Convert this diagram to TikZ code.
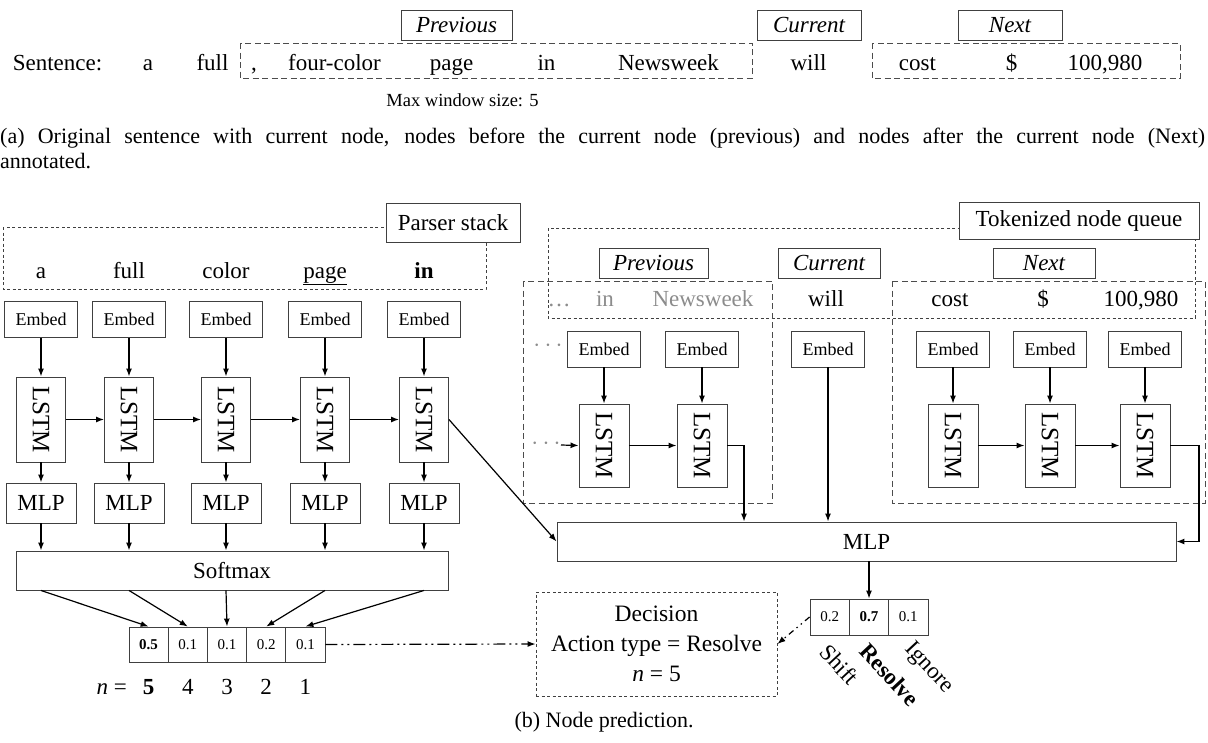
\documentclass[tikz,border=0pt]{standalone}
\usepackage{fontspec}
\setmainfont{Liberation Serif}
\usepackage{graphicx}
\usetikzlibrary{arrows.meta}
\tikzset{
  every node/.style={font=\fontsize{23}{27}\selectfont, inner sep=0pt},
  box/.style={draw=black!75, line width=0.9pt, inner sep=0pt},
  lbl/.style={box, font=\itshape\fontsize{23}{27}\selectfont, minimum height=30pt},
  emb/.style={box, minimum width=73pt, minimum height=36pt, font=\fontsize{18}{20}\selectfont},
  lstmbox/.style={box, minimum width=49pt, minimum height=85pt, font=\fontsize{25}{28}\selectfont},
  mlpbox/.style={box, minimum width=70pt, minimum height=40pt},
  cell/.style={box, minimum width=39.2pt, minimum height=35pt, font=\fontsize{15}{17}\selectfont},
  arr/.style={-{Latex[length=8pt,width=6pt]}, line width=1.2pt},
  dbox/.style={draw=black!70, dash pattern=on 6pt off 3.5pt, line width=0.9pt},
  sdbox/.style={draw=black!75, dash pattern=on 3pt off 2.5pt, line width=0.9pt},
  ddarr/.style={arr, dash pattern=on 12pt off 4pt on 2pt off 4pt on 2pt off 4pt},
  dotarr/.style={arr, dash pattern=on 6pt off 4pt on 1.5pt off 4pt on 1.5pt off 4pt},
  wd/.style={anchor=base},
  gw/.style={anchor=base, text=black!45},
  rot/.style={rotate=-47, anchor=west, font=\fontsize{23}{26}\selectfont}
}
\begin{document}
\begin{tikzpicture}[x=1pt,y=-1pt]
\path[use as bounding box] (0,0) rectangle (1208,742);

% ---------------- (a) ----------------
\node[lbl, minimum width=111pt] (tprev) at (456.5,25) {Previous};
\node[lbl, minimum width=104pt] (tcur) at (809,25) {Current};
\node[lbl, minimum width=104pt] (tnext) at (1010,25) {Next};
\draw[dbox] (240,43) rectangle (752,78);
\draw[dbox] (872,43) rectangle (1180,78);
\node[wd] (s0) at (57.5,70) {Sentence:};
\node[wd] (s1) at (148,70) {a};
\node[wd] (s2) at (212.5,70) {full};
\node[wd] (s3) at (254,70) {,};
\node[wd] (s4) at (334.5,70) {four-color};
\node[wd] (s5) at (451.5,70) {page};
\node[wd] (s6) at (546.5,70) {in};
\node[wd] (s7) at (668.5,70) {Newsweek};
\node[wd] (s8) at (808.5,70) {will};
\node[wd] (s9) at (917.5,70) {cost};
\node[wd] (s10) at (1011.5,70) {\$};
\node[wd] (s11) at (1105,70) {100,980};
\node[wd, font=\fontsize{18.5}{21}\selectfont] (mws) at (462.5,106) {Max window size: 5};
\node[anchor=north west, text width=1205pt, align=justify, font=\fontsize{22}{25}\selectfont] (capa) at (0,128)
 {(a) Original sentence with current node, nodes before the current node (previous) and nodes after the current node (Next)\linebreak annotated.};

% ---------------- (b) left: parser stack ----------------
\draw[sdbox] (3,227) rectangle (486,289);
\node[box, fill=white, minimum width=134pt, minimum height=39pt] (ps) at (453,222.5) {Parser stack};
\node[wd] (w1) at (41,278) {a};
\node[wd] (w2) at (129,278) {full};
\node[wd] (w3) at (226,278) {color};
\node[wd] (w4) at (325,278) {\underline{page}};
\node[wd] (w5) at (424,278) {\textbf{in}};

\foreach \i/\x in {1/41,2/129,3/226,4/325,5/424}{
  \node[emb] (e\i) at (\x,319.5) {Embed};
  \node[lstmbox] (l\i) at (\x,419.5) {\rotatebox{-90}{LSTM}};
  \node[mlpbox] (m\i) at (\x,503) {MLP};
}
\node[box, minimum width=432pt, minimum height=39pt] (sm) at (232,570.5) {Softmax};
\foreach \i/\v in {1/\textbf{0.5},2/0.1,3/0.1,4/0.2,5/0.1}{
  \node[cell] (p\i) at ({129+39.2*(\i-0.5)},644.5) {\v};
}
\foreach \i in {1,...,5}{
  \draw[arr] (e\i) -- (l\i);
  \draw[arr] (l\i) -- (m\i);
  \draw[arr] (m\i.south) -- (m\i.south |- sm.north);
  \draw[arr] (m\i.south |- sm.south) -- (p\i.north);
}
\foreach \i/\j in {1/2,2/3,3/4,4/5}{
  \draw[arr] (l\i.east) -- (l\j.west);
}
\node[anchor=base east] (neq) at (127,694) {\textit{n} =};
\foreach \i/\v in {1/\textbf{5},2/4,3/3,4/2,5/1}{
  \node[wd] (nn\i) at ({129+39.2*(\i-0.5)},694) {\v};
}

% ---------------- (b) right: node queue ----------------
\draw[sdbox] (548,228) rectangle (1195,318);
\node[box, fill=white, minimum width=240pt, minimum height=37pt] (tq) at (1079,220.5) {Tokenized node queue};
\draw[dbox] (523,281) rectangle (772,503);
\draw[dbox] (892,281) rectangle (1205,503);
\node[lbl, minimum width=109pt] (bprev) at (653.5,263) {Previous};
\node[lbl, minimum width=102pt] (bcur) at (829,263) {Current};
\node[lbl, minimum width=102pt] (bnext) at (1044,263) {Next};
\node[gw] (q0) at (559,306) {\ldots};
\node[gw] (q1w) at (605,306) {in};
\node[gw] (q2w) at (703,306) {Newsweek};
\node[wd] (q3w) at (826,306) {will};
\node[wd] (q4w) at (950,306) {cost};
\node[wd] (q5w) at (1043,306) {\$};
\node[wd] (q6w) at (1141,306) {100,980};

\node[text=black!45] (dd1) at (548,346) {$\cdots$};
\node[text=black!45] (dd2) at (546,444) {$\cdots$};
\coordinate (dd2e) at (561,445);
\node[emb] (re1) at (604,349) {Embed};
\node[emb] (re2) at (702,349) {Embed};
\node[emb] (rec) at (828,349) {Embed};
\node[emb] (ne1) at (953,349) {Embed};
\node[emb] (ne2) at (1050,349) {Embed};
\node[emb] (ne3) at (1145,349) {Embed};
\node[lstmbox, minimum height=83pt, minimum width=50pt] (rl1) at (604,445.5) {\rotatebox{-90}{LSTM}};
\node[lstmbox, minimum height=83pt, minimum width=50pt] (rl2) at (702,445.5) {\rotatebox{-90}{LSTM}};
\node[lstmbox, minimum height=83pt, minimum width=50pt] (nl1) at (953,445.5) {\rotatebox{-90}{LSTM}};
\node[lstmbox, minimum height=83pt, minimum width=50pt] (nl2) at (1050,445.5) {\rotatebox{-90}{LSTM}};
\node[lstmbox, minimum height=83pt, minimum width=50pt] (nl3) at (1145,445.5) {\rotatebox{-90}{LSTM}};
\node[box, minimum width=619pt, minimum height=39pt] (bm) at (866.5,541.5) {MLP};

\draw[arr] (re1) -- (rl1);
\draw[arr] (re2) -- (rl2);
\draw[arr] (ne1) -- (nl1);
\draw[arr] (ne2) -- (nl2);
\draw[arr] (ne3) -- (nl3);
\draw[arr] (dd2e) -- (rl1.west);
\draw[arr] (rl1.east) -- (rl2.west);
\draw[arr] (nl1.east) -- (nl2.west);
\draw[arr] (nl2.east) -- (nl3.west);
\coordinate (c1) at (744,445.5);
\draw[arr] (rl2.east) -- (c1) -- (c1 |- bm.north);
\draw[arr] (rec) -- (rec |- bm.north);
\coordinate (c2) at (1199,445.5);
\draw[arr] (nl3.east) -- (c2) |- (bm.east);
\draw[arr] (l5.east) -- (bm.west);

\node[cell, minimum width=39.3pt, minimum height=36pt] (r1) at (829.65,617) {0.2};
\node[cell, minimum width=39.3pt, minimum height=36pt] (r2) at (869,617) {\textbf{0.7}};
\node[cell, minimum width=39.3pt, minimum height=36pt] (r3) at (908.35,617) {0.1};
\draw[arr] (r2 |- bm.south) -- (r2.north);
\node[rot] (lsh) at (824,648) {Shift};
\node[rot] (lre) at (864,647) {\textbf{Resolve}};
\node[rot] (lig) at (908,646) {Ignore};

\node[sdbox, minimum width=241pt, minimum height=104pt, align=center, font=\fontsize{23.5}{30}\selectfont] (dec) at (656.5,644)
 {Decision\\Action type = Resolve\\\textit{n} = 5};
\draw[dotarr] (r1.west) -- (dec.east);
\draw[ddarr] (p5.east) -- (dec.west);

\node[wd, font=\fontsize{22}{25}\selectfont] (capb) at (604,727) {(b) Node prediction.};
\end{tikzpicture}
\end{document}
